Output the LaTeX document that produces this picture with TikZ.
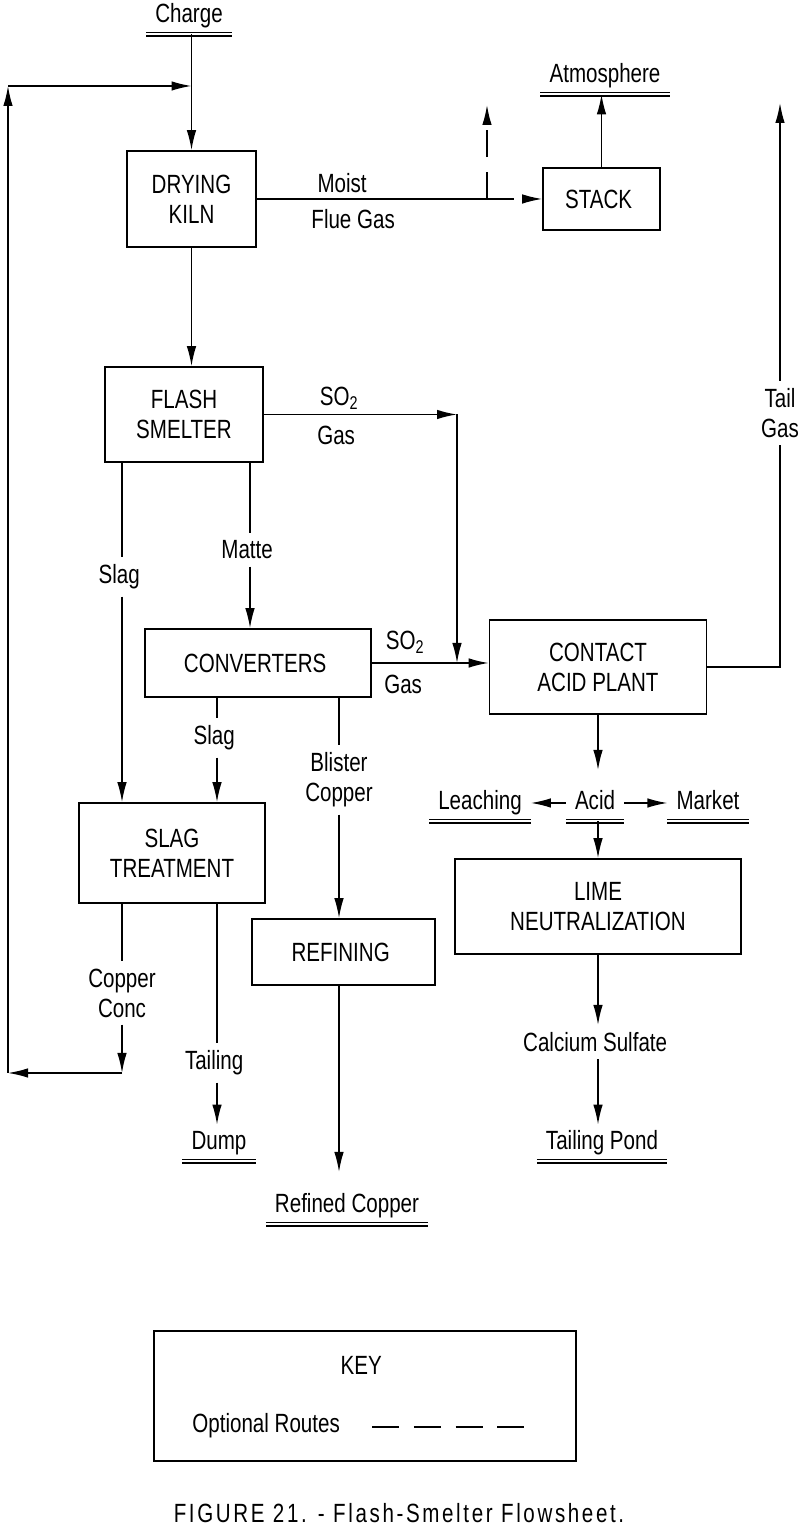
\documentclass[tikz,border=0pt]{standalone}
\usepackage{fontspec}
\setmainfont{Liberation Sans}[FakeStretch=0.78]
\usetikzlibrary{arrows.meta}

\tikzset{
  unit/.style={draw, line width=0.032cm, align=center, inner sep=0pt},
  stream/.style={align=center, inner sep=4pt},
  sink/.style={inner xsep=5pt, inner ysep=3pt, text height=11pt, text depth=3.5pt},
  sinkline/.style={double, double distance=0.045cm, line width=0.022cm},
  pipe/.style={line width=0.030cm},
  flow/.style={line width=0.030cm, -{Latex[length=4mm,width=1.9mm]}},
  optional/.style={dash pattern=on 15.3pt off 8.5pt},
}

\begin{document}
\begin{tikzpicture}
                    \useasboundingbox (0,0) rectangle (16.000000,30.540000);
                    {\fontsize{15}{17}\selectfont

                    % Marking stream Charge
                    \draw (3.780000,30.220000) node [sink] (charge) { Charge };%
                    \draw [sinkline] (charge.south west) -- (charge.south east);%

                    % Marking stream Atmosphere
                    \draw (12.100000,29.020000) node [sink] (atmos) { Atmosphere };%
                    \draw [sinkline] (atmos.south west) -- (atmos.south east);%

                    % Drawing box DRYING KILN
                    \draw (3.830000,26.560000) node [unit, minimum width=2.58cm, minimum height=1.92cm] (kiln) { DRYING\\KILN };%

                    % Drawing box STACK
                    \draw (12.030000,26.560000) node [unit, minimum width=2.34cm, minimum height=1.24cm] (stack) { STACK };%

                    % Drawing box FLASH SMELTER
                    \draw (3.680000,22.250000) node [unit, minimum width=3.16cm, minimum height=1.90cm] (flash) { FLASH\\SMELTER };%

                    % Drawing box CONVERTERS
                    \draw (5.160000,17.280000) node [unit, minimum width=4.52cm, minimum height=1.36cm] (conv) { CONVERTERS };%

                    % Drawing box CONTACT ACID PLANT
                    \draw (11.960000,17.200000) node [unit, minimum width=4.34cm, minimum height=1.88cm] (acid) { CONTACT\\ACID PLANT };%

                    % Drawing box SLAG TREATMENT
                    \draw (3.440000,13.480000) node [unit, minimum width=3.72cm, minimum height=2.00cm] (slagtr) { SLAG\\TREATMENT };%

                    % Drawing box REFINING
                    \draw (6.870000,11.500000) node [unit, minimum width=3.66cm, minimum height=1.32cm] (refin) { REFINING };%

                    % Drawing box LIME NEUTRALIZATION
                    \draw (11.960000,12.410000) node [unit, minimum width=5.72cm, minimum height=1.90cm] (lime) { LIME\\NEUTRALIZATION };%

                    % Marking stream labels
                    \draw (6.900000,26.880000) node [stream] (moist) { Moist };%
                    \draw (7.120000,26.160000) node [stream] (flue) { Flue Gas };%
                    \draw (6.840000,22.580000) node [stream] (so2a) { SO\textsubscript{2} };%
                    \draw (6.780000,21.840000) node [stream] (gasa) { Gas };%
                    \draw (8.160000,17.700000) node [stream] (so2b) { SO\textsubscript{2} };%
                    \draw (8.120000,16.860000) node [stream] (gasb) { Gas };%
                    \draw (2.440000,19.000000) node [stream] (slaga) { Slag };%
                    \draw (5.000000,19.540000) node [stream] (matte) { Matte };%
                    \draw (4.340000,15.780000) node [stream] (slagb) { Slag };%
                    \draw (6.780000,14.940000) node [stream] (blister) { Blister\\Copper };%
                    \draw (2.440000,10.680000) node [stream] (conc) { Copper\\Conc };%
                    \draw (4.340000,9.280000) node [stream] (tailing) { Tailing };%
                    \draw (15.600000,22.280000) node [stream] (tail) { Tail\\Gas };%
                    \draw (11.960000,9.700000) node [stream] (calc) { Calcium Sulfate };%

                    % Marking streams Leaching, Acid, Market
                    \draw (9.600000,14.480000) node [sink] (leach) { Leaching };%
                    \draw [sinkline] (leach.south west) -- (leach.south east);%
                    \draw (11.900000,14.480000) node [sink] (acidlbl) { Acid };%
                    \draw [sinkline] (acidlbl.south west) -- (acidlbl.south east);%
                    \draw (14.160000,14.480000) node [sink] (market) { Market };%
                    \draw [sinkline] (market.south west) -- (market.south east);%

                    % Marking streams Dump, Refined Copper, Tailing Pond
                    \draw (4.380000,7.680000) node [sink] (dump) { Dump };%
                    \draw [sinkline] (dump.south west) -- (dump.south east);%
                    \draw (6.940000,6.420000) node [sink] (refcu) { Refined Copper };%
                    \draw [sinkline] (refcu.south west) -- (refcu.south east);%
                    \draw (12.040000,7.680000) node [sink] (pond) { Tailing Pond };%
                    \draw [sinkline] (pond.south west) -- (pond.south east);%

                    % Corner points
                    \coordinate (looptop) at (0.160000,28.820000);%
                    \coordinate (loopbot) at (0.160000,9.080000);%
                    \coordinate (flueturn) at (9.740000,26.560000);%
                    \coordinate (fluetop) at (9.740000,28.440000);%
                    \coordinate (so2turn) at (9.140000,22.250000);%
                    \coordinate (tailtop) at (15.600000,28.480000);%
                    \coordinate (acidtip) at (11.960000,15.140000);%
                    \coordinate (refcutip) at (6.780000,7.100000);%

                    % Drawing segment Charge DRYING KILN
                    \draw [flow] (charge.south -| kiln.north) -- (kiln.north);%

                    % Drawing segment DRYING KILN STACK
                    \draw [pipe] (kiln.east) -- (flueturn);%
                    \draw [flow, optional] (flueturn) -- (stack.west);%
                    \draw [flow, optional] (flueturn) -- (fluetop);%
                    \draw [flow] (stack.north) -- (stack.north |- atmos.south);%

                    % Drawing segment DRYING KILN FLASH SMELTER
                    \draw [flow] (kiln.south) -- (kiln.south |- flash.north);%

                    % Drawing segment FLASH SMELTER CONTACT ACID PLANT
                    \draw [flow] (flash.east) -- (so2turn);%
                    \draw [flow] (so2turn) -- (so2turn |- conv.east);%
                    \draw [flow] (conv.east) -- (conv.east -| acid.west);%

                    % Drawing segment CONTACT ACID PLANT Tail Gas
                    \draw [pipe] (acid.east) -- (acid.east -| tail.south) -- (tail.south);%
                    \draw [flow] (tail.north) -- (tailtop);%

                    % Drawing segments below FLASH SMELTER
                    \draw [pipe] (flash.south -| slaga.north) -- (slaga.north);%
                    \draw [flow] (slaga.south) -- (slaga.south |- slagtr.north);%
                    \draw [pipe] (flash.south -| matte.north) -- (matte.north);%
                    \draw [flow] (matte.south) -- (matte.south |- conv.north);%

                    % Drawing segments below CONVERTERS
                    \draw [pipe] (conv.south -| slagb.north) -- (slagb.north);%
                    \draw [flow] (slagb.south) -- (slagb.south |- slagtr.north);%
                    \draw [pipe] (conv.south -| blister.north) -- (blister.north);%
                    \draw [flow] (blister.south) -- (blister.south |- refin.north);%
                    \draw [flow] (refin.south -| refcutip) -- (refcutip);%

                    % Drawing segments below SLAG TREATMENT
                    \draw [pipe] (slagtr.south -| conc.north) -- (conc.north);%
                    \draw [flow] (conc.south) -- (conc.south |- loopbot);%
                    \draw [flow] (conc.south |- loopbot) -- (loopbot);%
                    \draw [flow] (loopbot) -- (looptop);%
                    \draw [flow] (looptop) -- (looptop -| kiln.north);%
                    \draw [pipe] (slagtr.south -| tailing.north) -- (tailing.north);%
                    \draw [flow] (tailing.south) -- (tailing.south |- dump.north);%

                    % Drawing segments below CONTACT ACID PLANT
                    \draw [flow] (acid.south) -- (acidtip);%
                    \draw [flow] (acidlbl.west) -- (leach.east);%
                    \draw [flow] (acidlbl.east) -- (market.west);%
                    \draw [flow] (acid.south |- acidlbl.south) -- (acid.south |- lime.north);%
                    \draw [flow] (lime.south) -- (calc.north);%
                    \draw [flow] (calc.south) -- (calc.south |- pond.north);%

                    % Drawing key
                    \draw (7.300000,2.620000) node [unit, minimum width=8.44cm, minimum height=2.60cm] (keybox) {};%
                    \draw (7.280000,3.240000) node [stream] (keytitle) { KEY };%
                    \draw (5.380000,2.020000) node [stream] (keyroutes) { Optional Routes };%
                    \coordinate (keya) at (7.440000,2.000000);%
                    \coordinate (keyb) at (10.520000,2.000000);%
                    \draw [pipe, optional] (keya) -- (keyb);%

                    % Marking caption
                    \draw (7.980000,0.280000) node (caption) {\addfontfeatures{LetterSpace=10} FIGURE 21. - Flash-Smelter Flowsheet. };%
                    }
\end{tikzpicture}
\end{document}
